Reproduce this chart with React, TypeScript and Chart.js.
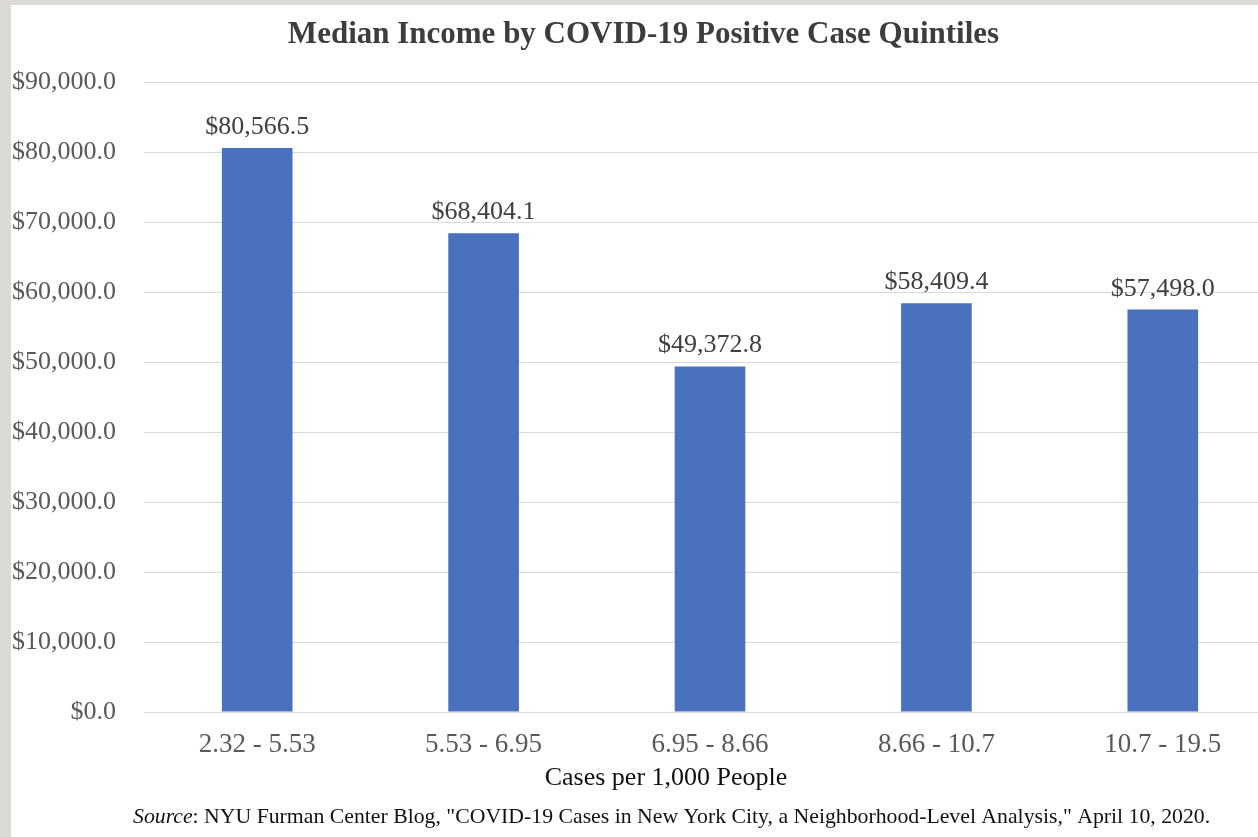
import React, { useEffect, useRef } from "react";
import { Chart, registerables } from "chart.js";

Chart.register(...registerables);

const categories = ["2.32 - 5.53", "5.53 - 6.95", "6.95 - 8.66", "8.66 - 10.7", "10.7 - 19.5"];
const medianIncome = [80566.5, 68404.1, 49372.8, 58409.4, 57498.0];
const yMin = 0;
const yMax = 90000;
const yStep = 10000;
const chartTitle = "Median Income by COVID-19 Positive Case Quintiles";
const xAxisTitle = "Cases per 1,000 People";
const sourceLabel = "Source";
const sourceText = ': NYU Furman Center Blog, "COVID-19 Cases in New York City, a Neighborhood-Level Analysis," April 10, 2020.';

const FONT = '"Liberation Serif", "Times New Roman", Times, serif';

const fmtMoney = (v: number) =>
  "$" + v.toLocaleString("en-US", { minimumFractionDigits: 1, maximumFractionDigits: 1 });

const extrasPlugin = {
  id: "extras",
  afterDatasetsDraw(chart: any) {
    const ctx = chart.ctx;
    ctx.save();
    // data labels
    const meta = chart.getDatasetMeta(0);
    ctx.font = `26px ${FONT}`;
    ctx.fillStyle = "#404040";
    ctx.textAlign = "center";
    ctx.textBaseline = "alphabetic";
    meta.data.forEach((bar: any, i: number) => {
      ctx.fillText(fmtMoney(chart.data.datasets[0].data[i]), bar.x, bar.y - 14);
    });
    // x axis title
    ctx.font = `26px ${FONT}`;
    ctx.fillStyle = "#111111";
    ctx.fillText(xAxisTitle, 655, 780);
    // source line
    ctx.textAlign = "left";
    ctx.font = `italic 21.75px ${FONT}`;
    const x0 = 122;
    ctx.fillText(sourceLabel, x0, 818);
    const w = ctx.measureText(sourceLabel).width;
    ctx.font = `21.75px ${FONT}`;
    ctx.fillText(sourceText, x0 + w, 818);
    ctx.restore();
  },
};

export default function App() {
  const ref = useRef<HTMLCanvasElement | null>(null);
  useEffect(() => {
    if (!ref.current) return;
    const chart = new Chart(ref.current, {
      type: "bar",
      data: {
        labels: categories,
        datasets: [
          {
            data: medianIncome,
            backgroundColor: "#4A71BE",
            borderWidth: 0,
            barPercentage: 1,
            categoryPercentage: 0.312,
          },
        ],
      },
      options: {
        responsive: false,
        animation: false,
        devicePixelRatio: 1,
        layout: { padding: 0 },
        plugins: {
          legend: { display: false },
          tooltip: { enabled: false },
          title: {
            display: true,
            text: chartTitle,
            color: "#3d3d3d",
            font: { family: FONT, size: 31, weight: "bold" },
            padding: { top: 11, bottom: 28.8 },
          },
        },
        scales: {
          x: {
            grid: { display: false, drawTicks: false },
            border: { display: false },
            ticks: {
              color: "#595959",
              font: { family: FONT, size: 27 },
              padding: 17,
              maxRotation: 0,
            },
            afterFit: (s: any) => {
              s.height = 125;
            },
          },
          y: {
            min: yMin,
            max: yMax,
            grid: { color: "#d9d9d9", lineWidth: 1, drawTicks: false },
            border: { display: false },
            ticks: {
              stepSize: yStep,
              color: "#595959",
              font: { family: FONT, size: 26 },
              padding: 28,
              callback: (v: any) => fmtMoney(Number(v)),
            },
            afterFit: (s: any) => {
              s.width = 133;
            },
          },
        },
      },
      plugins: [extrasPlugin],
    });
    return () => chart.destroy();
  }, []);

  return (
    <div
      style={{
        position: "fixed",
        left: 0,
        top: 0,
        width: 1258,
        height: 837,
        background: "#dddad5",
        overflow: "hidden",
      }}
    >
      <div
        style={{
          position: "absolute",
          left: 11,
          top: 5,
          width: 1265,
          height: 832,
          background: "#ffffff",
        }}
      >
        <canvas ref={ref} width={1265} height={832} style={{ display: "block" }} />
      </div>
    </div>
  );
}
